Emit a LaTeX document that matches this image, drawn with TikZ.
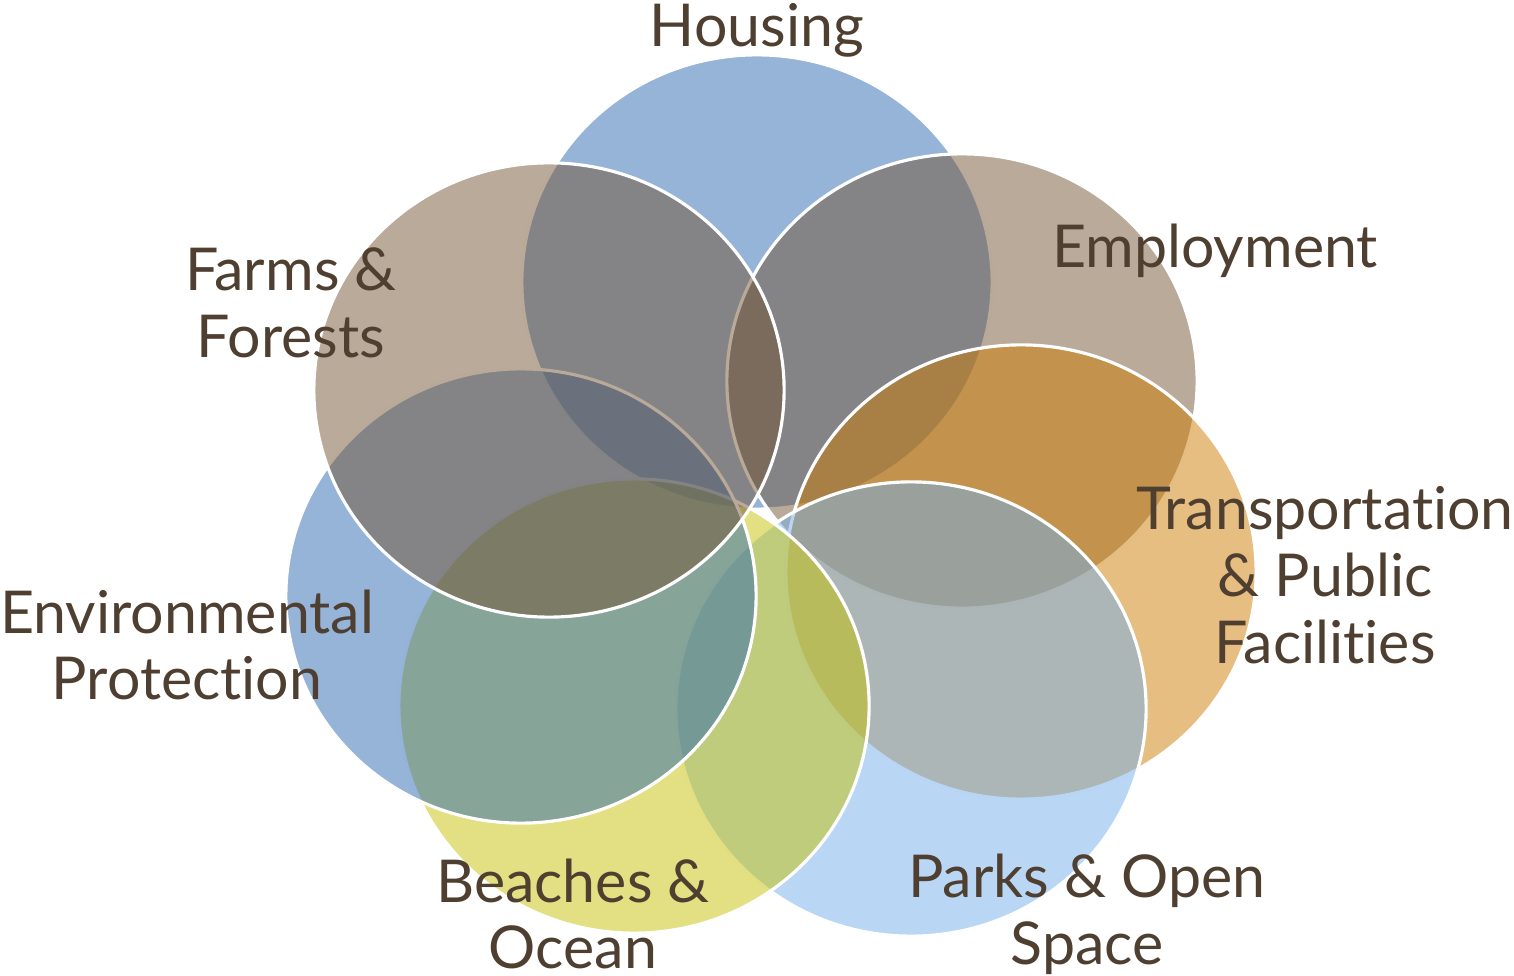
\documentclass[tikz,border=0pt]{standalone}
\usepackage{fontspec}
\setmainfont{Lato}[Ligatures={NoCommon}]
\usepackage{xcolor}
\usetikzlibrary{shapes.geometric,positioning}

\definecolor{labelbrown}{RGB}{78,63,48}
\definecolor{petalblue}{RGB}{45,105,178}
\definecolor{petaltan}{RGB}{115,85,52}
\definecolor{petalorange}{RGB}{205,125,5}
\definecolor{petalsky}{RGB}{115,175,235}
\definecolor{petalyellow}{RGB}{197,193,5}

\tikzset{
  petal/.style={draw=white, line width=0.9pt, ellipse, inner sep=0pt,
    minimum width=4.70cm, minimum height=4.54cm, fill opacity=0.5, draw opacity=1},
  tag/.style={align=center, text=labelbrown, inner sep=0pt,
    font=\fontsize{16.8}{19}\selectfont}
}

\begin{document}
\begin{tikzpicture}[x=0.01cm, y=-0.01cm]
    \useasboundingbox (0,0) rectangle (1514,976);

    % Petals, drawn clockwise from the top
    \node [petal, fill=petalblue] (housing) at (757,282) {};
    \node [petal, fill=petaltan] (employ) at (962,381) {};
    \node [petal, fill=petalorange] (transp) at (1021,572) {};
    \node [petal, fill=petalsky] (parks) at (911,709) {};
    \node [petal, fill=petalyellow] (beach) at (634,706) {};
    \node [petal, fill=petalblue] (envir) at (521,596) {};
    \node [petal, fill=petaltan] (farms) at (549,390) {};

    % Labels
    \node [tag] (housinglbl) at (757,30) {Housing};
    \node [tag] (employlbl) at (1215,251) {Employment};
    \node [tag] (transplbl) at (1325,575) {Transportation\\\& Public\\Facilities};
    \node [tag] (parkslbl) at (1087,914) {Parks \& Open\\Space};
    \node [tag] (beachlbl) at (573,914) {Beaches \&\\Ocean};
    \node [tag] (envirlbl) at (187,645) {Environmental\\Protection};
    \node [tag] (farmslbl) at (291,303) {Farms \&\\Forests};
\end{tikzpicture}
\end{document}
